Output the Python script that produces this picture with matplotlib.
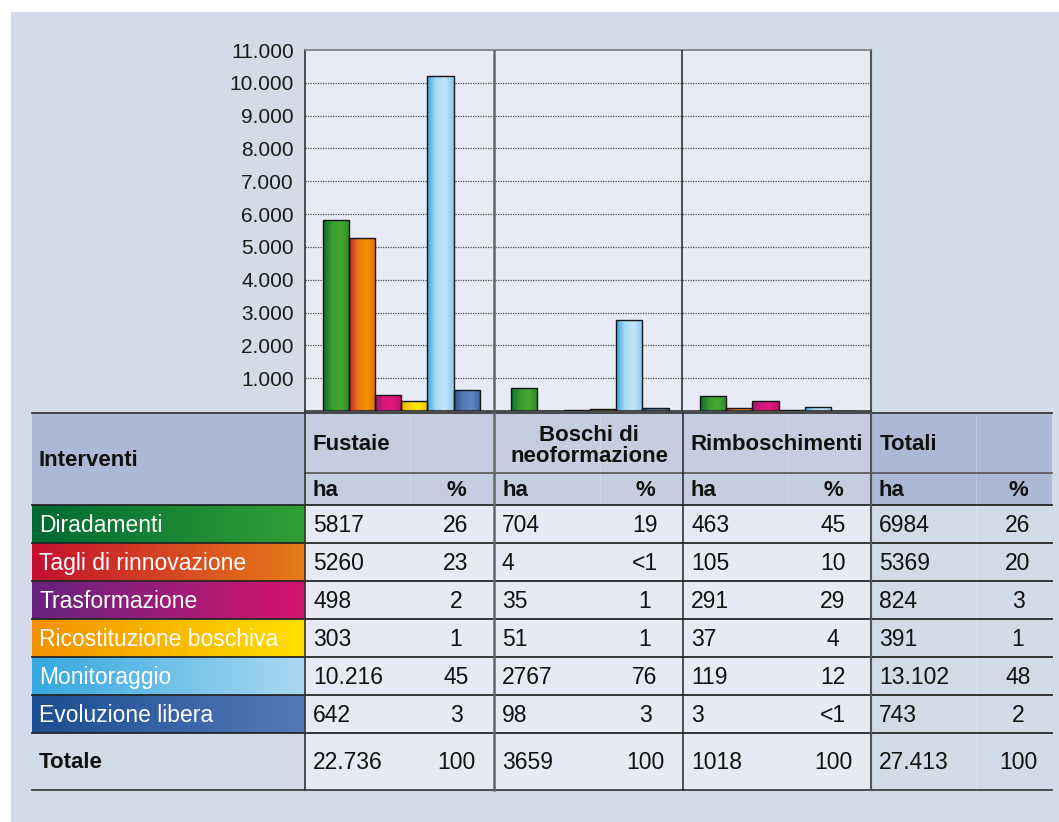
import numpy as np
import matplotlib
matplotlib.use("Agg")
import matplotlib.pyplot as plt
from matplotlib.colors import LinearSegmentedColormap, to_rgb
from matplotlib.patches import Rectangle

plt.rcParams['font.family'] = ['Liberation Sans', 'DejaVu Sans']

# ---- data -------------------------------------------------------------
categories = ["Fustaie", "Boschi di\nneoformazione", "Rimboschimenti"]
interventi = ["Diradamenti", "Tagli di rinnovazione", "Trasformazione",
              "Ricostituzione boschiva", "Monitoraggio", "Evoluzione libera"]
ha_fustaie = [5817, 5260, 498, 303, 10216, 642]
ha_boschi = [704, 4, 35, 51, 2767, 98]
ha_rimbo = [463, 105, 291, 37, 119, 3]
pct_fustaie = ["26", "23", "2", "1", "45", "3"]
pct_boschi = ["19", "<1", "1", "1", "76", "3"]
pct_rimbo = ["45", "10", "29", "4", "12", "<1"]
pct_totali = ["26", "20", "3", "1", "48", "2"]
pct_totale_row = ["100", "100", "100", "100"]
yticks = [1000, 2000, 3000, 4000, 5000, 6000, 7000, 8000, 9000, 10000, 11000]

ha_groups = [ha_fustaie, ha_boschi, ha_rimbo]
ha_totali = [a + b + c for a, b, c in zip(ha_fustaie, ha_boschi, ha_rimbo)]

# ---- styling ------------------------------------------------------------
bar_grad = [
    ["#0a6c2e", "#3a9c2e", "#46a830", "#2c8a2b"],
    ["#c4202c", "#ec7a0c", "#f39200", "#e06e00"],
    ["#981a6a", "#d8167a", "#e0187a", "#c0106a"],
    ["#eea400", "#ffd800", "#ffe800", "#f2bc00"],
    ["#38a4dc", "#a8daf4", "#c2e5f8", "#8cc6ec"],
    ["#2c4d92", "#5478b8", "#6487c4", "#3c5ea4"],
]
label_grad = [
    ("#006a33", "#32a036"),
    ("#c4102f", "#e77c17"),
    ("#65247f", "#d5146f"),
    ("#f39100", "#ffe000"),
    ("#34a8df", "#abd9f2"),
    ("#1c4d92", "#5679b9"),
]
BG = "#d3dae8"
PLOT_BG = "#e8ebf5"
HEAD_DARK = "#acb9d4"
HEAD = "#c6cde0"
CELL = "#e7eaf4"
FS = 16.5
FS_HDR = 16

W, H = 1059, 822
fig = plt.figure(figsize=(W / 100, H / 100), dpi=100)
fig.patch.set_facecolor("white")

# pixel-space layer for background and table
bg = fig.add_axes([0, 0, 1, 1], zorder=0)
bg.set_xlim(0, W)
bg.set_ylim(H, 0)
bg.axis("off")
bg.add_patch(Rectangle((11, 12), W - 11, H - 12, facecolor=BG, edgecolor="none"))

# ---- bar chart ------------------------------------------------------------
px0, px1, py_top, py_bot = 305, 871, 50, 411
ax = fig.add_axes([px0 / W, 1 - py_bot / H, (px1 - px0) / W, (py_bot - py_top) / H], zorder=1)
ax.set_facecolor(PLOT_BG)

n_series = len(interventi)
bw = 0.139
x = np.arange(len(categories))
for i in range(n_series):
    vals = [g[i] for g in ha_groups]
    pos = x + (i - (n_series - 1) / 2) * bw + 0.01
    bars = ax.bar(pos, vals, width=bw, color="none", edgecolor="none", zorder=2)
    cmap = LinearSegmentedColormap.from_list(f"g{i}", [to_rgb(c) for c in bar_grad[i]])
    grad = cmap(np.linspace(0, 1, 64))[np.newaxis, :, :]
    for rect in bars:
        bx, by = rect.get_x(), rect.get_y()
        w, h = rect.get_width(), rect.get_height()
        im = ax.imshow(grad, extent=[bx, bx + w, by, by + h], aspect="auto",
                       interpolation="bilinear", zorder=2)
        im.set_clip_path(rect)
    ax.bar(pos, vals, width=bw, fill=False, edgecolor="#151515", linewidth=1.0, zorder=3)

ax.set_xlim(-0.5, len(categories) - 0.5)
ax.set_ylim(0, 11000)
ax.set_yticks(yticks)
ax.set_yticklabels([f"{v:,}".replace(",", ".") for v in yticks])
ax.set_xticks([])
ax.tick_params(axis="y", length=0, pad=8, labelsize=15, labelcolor="#1a1a1a")
for v in yticks[:-1]:
    ax.axhline(v, color="#4a4a4a", linestyle=(0, (1, 1)), linewidth=0.9, zorder=1)
ax.axvline(0.5, color="#666666", linewidth=1.8, zorder=4)
ax.axvline(1.5, color="#222222", linewidth=1.1, zorder=4)
ax.spines["left"].set_color("#333333")
ax.spines["left"].set_linewidth(1.2)
ax.spines["top"].set_color("#7a7a7a")
ax.spines["top"].set_linewidth(1.2)
ax.spines["right"].set_color("#555555")
ax.spines["right"].set_linewidth(1.5)
ax.spines["bottom"].set_color("#333333")
ax.spines["bottom"].set_linewidth(1.2)

# ---- table ----------------------------------------------------------------
lab_x0, lab_x1 = 32, 305
cols = [(305, 410, 494), (494, 600, 683), (683, 788, 871), (871, 976, 1052)]
pct_cx = [456, 645, 833, 1018]
tab_right = 1052
h1_top, h2_top, data_top = 413, 473, 505
row_edges = [505, 543, 581, 619, 657, 695, 733]
tot_bot = 790

# header cells
bg.add_patch(Rectangle((lab_x0, h1_top), lab_x1 - lab_x0, data_top - h1_top, facecolor=HEAD_DARK, edgecolor="none"))
bg.add_patch(Rectangle((305, h1_top), 871 - 305, data_top - h1_top, facecolor=HEAD, edgecolor="none"))
bg.add_patch(Rectangle((871, h1_top), tab_right - 871, data_top - h1_top, facecolor=HEAD_DARK, edgecolor="none"))
# body cells
bg.add_patch(Rectangle((305, data_top), 871 - 305, tot_bot - data_top, facecolor=CELL, edgecolor="none"))
bg.add_patch(Rectangle((871, data_top), tab_right - 871, tot_bot - data_top, facecolor=BG, edgecolor="none"))

# gradient label cells
for r, name in enumerate(interventi):
    y0, y1 = row_edges[r], row_edges[r + 1]
    cmap = LinearSegmentedColormap.from_list(f"l{r}", [to_rgb(c) for c in label_grad[r]])
    grad = cmap(np.linspace(0, 1, 128))[np.newaxis, :, :]
    bg.imshow(grad, extent=[lab_x0, lab_x1, y1, y0], aspect="auto", interpolation="bilinear", zorder=1)
    bg.text(39, (y0 + y1) / 2 + 1, name, color="white", fontsize=FS, va="center", ha="left", zorder=5)

bg.set_xlim(0, W)
bg.set_ylim(H, 0)

# faint sub-column dividers
for c in cols:
    bg.plot([c[1], c[1]], [h1_top, tot_bot], color="#ffffff", linewidth=0.6, alpha=0.22, zorder=3)

# horizontal rules
bg.plot([lab_x0, tab_right], [h1_top, h1_top], color="#3a3a3a", linewidth=1.3, zorder=4)
bg.plot([305, tab_right], [h2_top, h2_top], color="#555555", linewidth=1.2, zorder=4)
for yy in row_edges:
    bg.plot([lab_x0, tab_right], [yy, yy], color="#262626", linewidth=1.3, zorder=4)
bg.plot([lab_x0, tab_right], [tot_bot, tot_bot], color="#444444", linewidth=1.3, zorder=4)

# vertical rules
bg.plot([305, 305], [h1_top, tot_bot], color="#333333", linewidth=1.2, zorder=4)
bg.plot([494, 494], [h1_top, tot_bot], color="#666666", linewidth=1.8, zorder=4)
bg.plot([683, 683], [h1_top, tot_bot], color="#222222", linewidth=1.1, zorder=4)
bg.plot([871, 871], [h1_top, tot_bot], color="#555555", linewidth=1.5, zorder=4)

# header texts
hdr = dict(fontsize=FS_HDR, fontweight="bold", color="#111111", zorder=5)
bg.text(39, 460, "Interventi", va="center", ha="left", **hdr)
bg.text(313, 444, categories[0], va="center", ha="left", **hdr)
bg.text(589, 446, categories[1], va="center", ha="center", linespacing=0.95, **hdr)
bg.text(691, 444, categories[2], va="center", ha="left", **hdr)
bg.text(880, 444, "Totali", va="center", ha="left", **hdr)
for c, pc in zip(cols, pct_cx):
    bg.text(c[0] + 8, 490, "ha", va="center", ha="left", **hdr)
    bg.text(pc, 490, "%", va="center", ha="center", **hdr)


def fmt_ha(v):
    return f"{v:,}".replace(",", ".") if v >= 10000 else str(v)


ha_cols = [ha_fustaie, ha_boschi, ha_rimbo, ha_totali]
pct_cols = [pct_fustaie, pct_boschi, pct_rimbo, pct_totali]
txt = dict(fontsize=FS, color="#111111", zorder=5)
for ci, c in enumerate(cols):
    for r in range(n_series):
        yc = (row_edges[r] + row_edges[r + 1]) / 2 + 1
        bg.text(c[0] + 8, yc, fmt_ha(ha_cols[ci][r]), va="center", ha="left", **txt)
        bg.text(pct_cx[ci], yc, pct_cols[ci][r], va="center", ha="center", **txt)
    yc = (row_edges[-1] + tot_bot) / 2 + 1
    bg.text(c[0] + 8, yc, fmt_ha(sum(ha_cols[ci])), va="center", ha="left", **txt)
    bg.text(pct_cx[ci], yc, pct_totale_row[ci], va="center", ha="center", **txt)

bg.text(39, (row_edges[-1] + tot_bot) / 2 + 1, "Totale", va="center", ha="left", **hdr)

fig.savefig("out.png", dpi=100, facecolor=fig.get_facecolor())
